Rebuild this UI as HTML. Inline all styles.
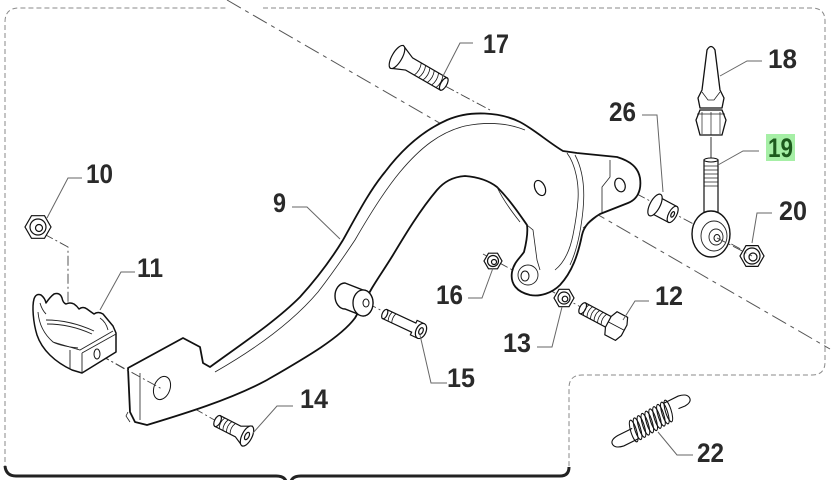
<!DOCTYPE html>
<html><head><meta charset="utf-8"><style>
html,body{margin:0;padding:0;background:#fff;}
svg{display:block;}
text{font-family:"Liberation Sans",Arial,sans-serif;font-weight:bold;font-size:27px;fill:#2a2a2a;}
</style></head><body>
<svg width="831" height="480" viewBox="0 0 831 480" xmlns="http://www.w3.org/2000/svg">
<rect width="831" height="480" fill="#fff"/>
<!-- border -->
<path d="M5,470 L5,22 Q5,8 19,8 L226,8 M263,8 L812,8 Q825,8 825,21 L825,362 Q825,375 812,375 L582,375 Q569,375 569,388 L569,470" fill="none" stroke="#8a8a8a" stroke-width="1" stroke-dasharray="5 3"/>
<path d="M5,466 Q6,476 16,476 L276,476 Q284,476 286,481 M291,481 Q293,476 301,476 L560,476 Q569,476 569,467" fill="none" stroke="#222" stroke-width="3"/>
<!-- big diagonal -->
<path d="M227,0 L830,349" stroke="#555" stroke-width="1" fill="none" stroke-dasharray="16 5 4 5"/>
<!-- axis lines -->
<g stroke="#444" stroke-width="0.9" fill="none" stroke-dasharray="10 3 2 3">
<path d="M44,234 L68,247 L68,342"/>
<path d="M100,355 L218,422"/>
<path d="M367,303 L392,316"/>
<path d="M445,86 L490,110"/>
<path d="M483,254 L590,312"/>
<path d="M620,185 L752,255"/>
</g>
<path d="M711,137 L711,158" stroke="#333" stroke-width="1"/>

<!-- pedal body -->
<path d="M210,367 C240,345 275,322 300,297 C320,275 332,258 343,240 C358,213 370,190 385,172 C400,152 420,132 447,120 C470,110 500,112 520,122 C535,130 548,142 563,151 L577,153 L617,157 C630,161 638,167 640,178 C642,192 636,200 628,203 L600,214 C590,220 584,226 582,235 C578,255 572,272 560,285 C552,293 540,297 530,295 C517,292 510,284 512,272 C514,262 520,258 524,252 C527,240 528,232 527,225 C520,215 510,200 497,187 C488,180 478,177 465,176 C452,177 444,182 437,190 C420,210 405,235 393,255 C385,268 378,278 372,288 L355,318 C340,338 305,358 267,380 C230,400 180,415 147,425 L135,422 L130,412 L128,368 L183,338 L200,347 L203,363 Z" fill="#fff" stroke="#111" stroke-width="1.8" stroke-linejoin="round"/>
<!-- chamfer line -->
<path d="M215,372 C250,352 290,325 318,292 C335,270 345,255 355,240 C370,214 385,190 400,172 C420,148 440,132 465,126 C490,121 510,124 525,130" fill="none" stroke="#222" stroke-width="0.8"/>
<!-- pivot plate details -->
<g fill="none" stroke="#222" stroke-width="0.8">
<path d="M567,153 C576,165 579,185 578,200 C577,215 575,225 573,235 C570,250 565,262 555,270"/>
<path d="M575,155 C583,170 585,190 583,210 C581,230 577,250 570,265"/>
<path d="M610,160 L610,177 L602,187 L602,213"/>
<path d="M600,214 L583,228"/>
<path d="M497,187 C503,200 512,212 520,222"/>
<path d="M527,225 L533,230 L537,260 L540,270"/>
<path d="M140,373 L140,420"/>
<path d="M128,412 L126,416 L130,422"/>
</g>
<ellipse cx="540" cy="188" rx="5" ry="8" transform="rotate(-25 540 188)" fill="#fff" stroke="#111" stroke-width="1.2"/>
<ellipse cx="620" cy="185" rx="5" ry="7" transform="rotate(-20 620 185)" fill="#fff" stroke="#111" stroke-width="1.2"/>
<circle cx="528" cy="275" r="10" fill="none" stroke="#222" stroke-width="0.9"/>
<ellipse cx="525" cy="276" rx="4" ry="5" fill="#fff" stroke="#111" stroke-width="1"/>
<ellipse cx="162" cy="388" rx="8" ry="12" transform="rotate(20 162 388)" fill="#fff" stroke="#111" stroke-width="1"/>
<path d="M100,355 L162,389" stroke="#444" stroke-width="0.9" stroke-dasharray="10 3 2 3" fill="none"/>
<!-- sleeve -->
<path d="M345,283 L363,290 A10,13 0 0 1 363,316 L345,309 A10,13 0 0 1 345,283 Z" fill="#fff" stroke="#111" stroke-width="1.4"/>
<ellipse cx="363" cy="303" rx="10" ry="13" fill="#fff" stroke="#111" stroke-width="1.3"/>
<ellipse cx="366" cy="303" rx="3" ry="4" fill="#fff" stroke="#111" stroke-width="1"/>

<!-- foot peg 11 -->
<path d="M34,299 Q36,293 41,295 Q45,298 46,303 Q50,297 54,294 Q60,292 62,298 Q63,303 66,304 Q70,302 74,304 Q77,306 79,309 Q83,306 87,309 Q91,312 94,314 Q98,311 103,314 L113,326 L116,333 L116,352 L82,373 L72,370 C55,362 42,350 37,335 C33,322 32,306 34,299 Z" fill="#fff" stroke="#111" stroke-width="1.5" stroke-linejoin="round"/>
<g fill="none" stroke="#222" stroke-width="0.9">
<path d="M38,312 C39,325 45,335 53,342 L80,350 L113,331"/>
<path d="M53,342 Q60,346 78,348"/>
<path d="M46,320 Q70,320 94,331"/>
<path d="M47,324 Q70,324 92,334"/>
<path d="M40,303 Q42,310 46,314"/>
<path d="M70,350 L70,369"/>
<path d="M82,353 L82,373"/>
<path d="M82,353 L116,334"/>
<path d="M100,318 Q106,322 108,330"/>
</g>
<ellipse cx="97" cy="354" rx="3" ry="5" fill="#fff" stroke="#111" stroke-width="1"/>

<!-- nuts -->
<g fill="#fff" stroke="#111" stroke-width="1.2">
<polygon points="51,227 44.5,238.3 31.5,238.3 25,227 31.5,215.7 44.5,215.7"/>
<circle cx="38" cy="227" r="8" fill="none"/><circle cx="39" cy="228" r="3.5"/>
<polygon points="502,261 497.5,268.8 488.5,268.8 484,261 488.5,253.2 497.5,253.2"/>
<circle cx="493" cy="261" r="5.5" fill="none"/><circle cx="494" cy="262" r="2.5"/>
<polygon points="574,298 569,306.7 559,306.7 554,298 559,289.3 569,289.3"/>
<circle cx="564" cy="298" r="6" fill="none"/><circle cx="565" cy="299" r="2.8"/>
<polygon points="764,256 758,266.4 746,266.4 740,256 746,245.6 758,245.6"/>
<circle cx="752" cy="256" r="8" fill="none"/><circle cx="753" cy="257" r="4"/>
</g>

<!-- bolt 17 -->
<g transform="translate(397,57) rotate(30)" fill="#fff" stroke="#111" stroke-width="1.2">
<path d="M0,-13 L14,-7 L54,-7 L54,7 L14,7 L0,13 Z"/>
<ellipse cx="0" cy="0" rx="5" ry="13"/>
<ellipse cx="54" cy="0" rx="3" ry="7"/>
<g fill="none" stroke-width="0.8"><path d="M24,-7 Q27,0 24,7 M29,-7 Q32,0 29,7 M34,-7 Q37,0 34,7 M39,-7 Q42,0 39,7 M44,-7 Q47,0 44,7 M49,-7 Q52,0 49,7"/></g>
</g>
<!-- bolt 14 -->
<g transform="translate(247,436) rotate(207)" fill="#fff" stroke="#111" stroke-width="1.2">
<path d="M0,-11 L10,-6 L33,-6 L33,6 L10,6 L0,11 Z"/>
<ellipse cx="33" cy="0" rx="3" ry="6"/>
<g fill="none" stroke-width="0.8"><path d="M16,-6 Q19,0 16,6 M20,-6 Q23,0 20,6 M24,-6 Q27,0 24,6 M28,-6 Q31,0 28,6"/></g>
<ellipse cx="0" cy="0" rx="5" ry="11"/>
<ellipse cx="0" cy="0" rx="2" ry="4"/>
</g>
<!-- bolt 15 -->
<g transform="translate(421,331) rotate(205)" fill="#fff" stroke="#111" stroke-width="1.2">
<path d="M0,-8 L8,-8 L8,-5 L40,-5 L40,5 L8,5 L8,8 L0,8 Z"/>
<ellipse cx="40" cy="0" rx="2.5" ry="5"/>
<g fill="none" stroke-width="0.8"><path d="M30,-5 Q32,0 30,5 M34,-5 Q36,0 34,5"/></g>
<ellipse cx="0" cy="0" rx="5" ry="8"/>
<ellipse cx="0" cy="0" rx="2" ry="3.5"/>
</g>
<!-- bolt 12 -->
<g transform="translate(618,327) rotate(208)" fill="#fff" stroke="#111" stroke-width="1.2">
<path d="M6,-6 L40,-6 L40,6 L6,6 Z"/>
<ellipse cx="40" cy="0" rx="3" ry="6"/>
<g fill="none" stroke-width="0.8"><path d="M16,-6 Q19,0 16,6 M20,-6 Q23,0 20,6 M24,-6 Q27,0 24,6 M28,-6 Q31,0 28,6 M32,-6 Q35,0 32,6 M36,-6 Q39,0 36,6"/></g>
<path d="M-4,-13 L8,-13 L11,-6 L11,6 L8,13 L-4,13 L-7,6 L-7,-6 Z"/>
<path d="M-7,0 L11,0" fill="none" stroke-width="0.8"/>
</g>
<!-- bushing 26 -->
<g transform="translate(655,205) rotate(28)" fill="#fff" stroke="#111" stroke-width="1.2">
<path d="M0,-9 L20,-9 L20,9 L0,9 Z"/>
<ellipse cx="20" cy="0" rx="4" ry="9"/>
<ellipse cx="20" cy="0" rx="1.5" ry="3"/>
<ellipse cx="0" cy="0" rx="5" ry="12"/>
</g>
<!-- 18 -->
<path d="M707,50 Q711,43 715,50 L720,90 L724,98 L722,108 L700,108 L698,98 L702,90 Z" fill="#fff" stroke="#111" stroke-width="1.3" stroke-linejoin="round"/>
<path d="M702,92 L708,100 L714,100 L720,92" fill="none" stroke="#222" stroke-width="0.8"/>
<path d="M700,110 L722,110 L726,120 L722,135 L700,135 L696,120 Z" fill="#fff" stroke="#111" stroke-width="1.3"/>
<path d="M702,112 L702,134 M711,112 L711,135 M720,112 L720,134 M697,114 L725,114" fill="none" stroke="#222" stroke-width="0.7"/>
<!-- 19 -->
<path d="M704,160 L718,160 L718,215 L704,215 Z" fill="#fff" stroke="#111" stroke-width="1.2"/>
<ellipse cx="711" cy="160" rx="7" ry="2" fill="#fff" stroke="#111" stroke-width="1"/>
<path d="M704,166 L718,166 M704,170 L718,170 M704,174 L718,174 M704,178 L718,178 M704,182 L718,182 M704,186 L718,186" stroke="#222" stroke-width="0.8"/>
<ellipse cx="711" cy="234" rx="19" ry="23" fill="#fff" stroke="#111" stroke-width="1.4"/>
<ellipse cx="714" cy="236" rx="13" ry="15" fill="none" stroke="#222" stroke-width="0.9"/>
<ellipse cx="716" cy="237" rx="7" ry="8" fill="none" stroke="#222" stroke-width="0.9"/>
<ellipse cx="717" cy="238" rx="3" ry="3.5" fill="#fff" stroke="#111" stroke-width="1"/>
<path d="M717,238 L752,256" stroke="#444" stroke-width="0.9" stroke-dasharray="10 3 2 3"/>
<!-- spring 22 -->
<g transform="translate(651,421) rotate(-30)" fill="none" stroke="#111" stroke-width="1.1">
<path d="M-20,9 L-36,8 Q-45,6 -45,1 Q-45,-4 -36,-4 L-20,-3"/>
<path d="M20,-9 L36,-8 Q45,-6 45,-1 Q45,4 37,4 L30,3"/>
<g transform="skewX(-12)">
<ellipse cx="-20" cy="0" rx="3" ry="11"/><ellipse cx="-15.5" cy="0" rx="3" ry="11"/><ellipse cx="-11" cy="0" rx="3" ry="11"/><ellipse cx="-6.5" cy="0" rx="3" ry="11"/><ellipse cx="-2" cy="0" rx="3" ry="11"/><ellipse cx="2.5" cy="0" rx="3" ry="11"/><ellipse cx="7" cy="0" rx="3" ry="11"/><ellipse cx="11.5" cy="0" rx="3" ry="11"/><ellipse cx="16" cy="0" rx="3" ry="11"/><ellipse cx="20" cy="0" rx="3" ry="11"/>
</g>
</g>

<!-- leader lines -->
<g fill="none" stroke="#666" stroke-width="1">
<path d="M473,43 L460,43 L443,76"/>
<path d="M762,61 L747,61 L720,76"/>
<path d="M759,151 L743,151 L718,165"/>
<path d="M772,213 L757,213 L752,243"/>
<path d="M642,115 L657,115 L663,192"/>
<path d="M82,178 L68,178 L47,218"/>
<path d="M292,207 L307,207 L340,239"/>
<path d="M135,272 L121,272 L100,310"/>
<path d="M293,406 L277,406 L253,433"/>
<path d="M447,383 L431,383 L420,335"/>
<path d="M468,298 L482,298 L493,268"/>
<path d="M537,347 L552,347 L562,307"/>
<path d="M649,301 L635,301 L623,320"/>
<path d="M693,455 L677,455 L658,432"/>
</g>

<!-- labels -->
<text x="483" y="53" textLength="26" lengthAdjust="spacingAndGlyphs">17</text>
<text x="768" y="68" textLength="29" lengthAdjust="spacingAndGlyphs">18</text>
<rect x="766" y="134" width="29" height="27" fill="#a6efa6"/>
<text x="768" y="157" textLength="25" lengthAdjust="spacingAndGlyphs" style="fill:#1d5a1d">19</text>
<text x="779" y="220" textLength="28" lengthAdjust="spacingAndGlyphs">20</text>
<text x="609" y="121" textLength="27" lengthAdjust="spacingAndGlyphs">26</text>
<text x="86" y="183" textLength="27" lengthAdjust="spacingAndGlyphs">10</text>
<text x="273" y="212" textLength="13" lengthAdjust="spacingAndGlyphs">9</text>
<text x="137" y="277" textLength="26" lengthAdjust="spacingAndGlyphs">11</text>
<text x="300" y="408" textLength="28" lengthAdjust="spacingAndGlyphs">14</text>
<text x="436" y="304" textLength="27" lengthAdjust="spacingAndGlyphs">16</text>
<text x="655" y="305" textLength="28" lengthAdjust="spacingAndGlyphs">12</text>
<text x="503" y="352" textLength="28" lengthAdjust="spacingAndGlyphs">13</text>
<text x="447" y="387" textLength="28" lengthAdjust="spacingAndGlyphs">15</text>
<text x="697" y="462" textLength="27" lengthAdjust="spacingAndGlyphs">22</text>
</svg>
</body></html>
